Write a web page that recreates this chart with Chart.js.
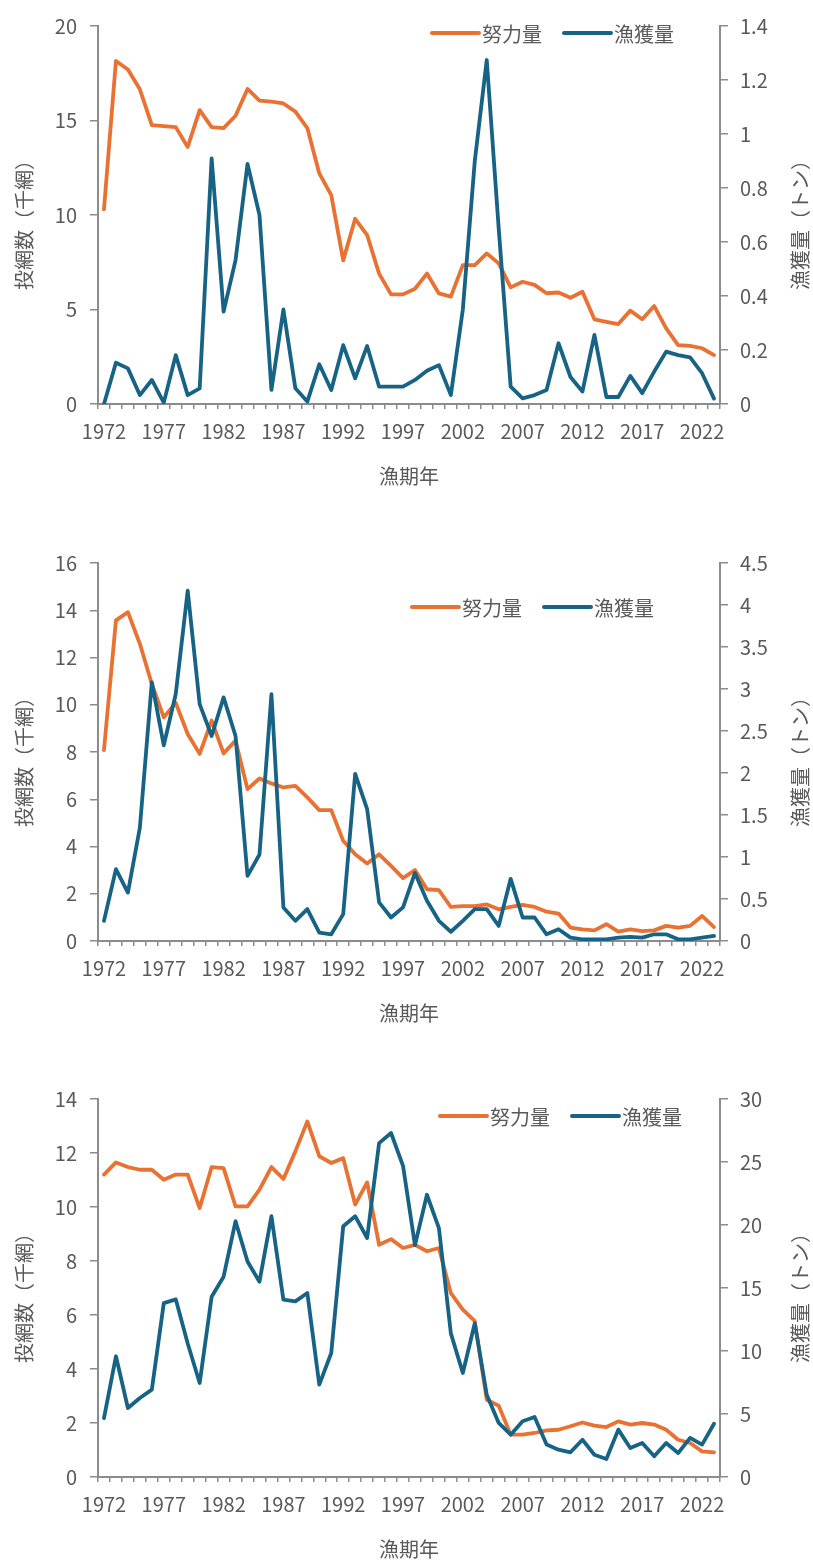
<!DOCTYPE html>
<html lang="ja">
<head>
<meta charset="utf-8">
<script src="https://cdn.jsdelivr.net/npm/chart.js@4.4.1/dist/chart.umd.min.js"></script>
<style>
  html, body { margin: 0; padding: 0; background: #fff; overflow: hidden; }
  body { width: 813px; height: 1560px; position: relative; }
  .panel { position: absolute; left: 0; width: 813px; }
</style>
</head>
<body>
<div class="panel" style="top:0;height:537px"><canvas id="c1"></canvas></div>
<div class="panel" style="top:537px;height:537px"><canvas id="c2"></canvas></div>
<div class="panel" style="top:1073px;height:487px"><canvas id="c3"></canvas></div>
<script>
// 漁期年
const years = [
  1972, 1973, 1974, 1975, 1976, 1977, 1978, 1979, 1980, 1981,
  1982, 1983, 1984, 1985, 1986, 1987, 1988, 1989, 1990, 1991,
  1992, 1993, 1994, 1995, 1996, 1997, 1998, 1999, 2000, 2001,
  2002, 2003, 2004, 2005, 2006, 2007, 2008, 2009, 2010, 2011,
  2012, 2013, 2014, 2015, 2016, 2017, 2018, 2019, 2020, 2021,
  2022, 2023
];

// 上段: 努力量（千網）と漁獲量（トン）
const effortTop = [
  10.3, 18.15, 17.7, 16.65, 14.76, 14.7, 14.65, 13.6, 15.55, 14.65,
  14.6, 15.25, 16.67, 16.05, 16.0, 15.9, 15.47, 14.6, 12.2, 11.05,
  7.6, 9.8, 8.94, 6.9, 5.8, 5.8, 6.1, 6.9, 5.85, 5.68,
  7.35, 7.35, 7.97, 7.44, 6.17, 6.47, 6.3, 5.86, 5.9, 5.62,
  5.94, 4.48, 4.35, 4.23, 4.94, 4.48, 5.18, 4.0, 3.12, 3.07,
  2.95, 2.59
];
const catchTop = [
  0.0, 0.153, 0.132, 0.033, 0.089, 0.005, 0.181, 0.033, 0.058, 0.91,
  0.342, 0.533, 0.889, 0.70, 0.052, 0.35, 0.058, 0.009, 0.147, 0.052,
  0.218, 0.095, 0.215, 0.064, 0.064, 0.064, 0.089, 0.123, 0.144, 0.033,
  0.35, 0.90, 1.274, 0.65, 0.064, 0.021, 0.033, 0.052, 0.225, 0.10,
  0.046, 0.256, 0.026, 0.026, 0.104, 0.04, 0.12, 0.194, 0.181, 0.173,
  0.114, 0.02
];

// 中段
const effortMid = [
  8.08, 13.57, 13.92, 12.58, 10.88, 9.47, 10.08, 8.76, 7.92, 9.33,
  7.94, 8.48, 6.43, 6.88, 6.67, 6.50, 6.57, 6.08, 5.54, 5.54,
  4.24, 3.67, 3.28, 3.67, 3.18, 2.66, 3.0, 2.19, 2.15, 1.44,
  1.48, 1.48, 1.55, 1.34, 1.44, 1.53, 1.44, 1.24, 1.16, 0.57,
  0.49, 0.45, 0.71, 0.40, 0.49, 0.42, 0.45, 0.64, 0.57, 0.64,
  1.06, 0.59
];
const catchMid = [
  0.24, 0.855, 0.576, 1.35, 3.08, 2.33, 2.94, 4.17, 2.82, 2.44,
  2.90, 2.44, 0.775, 1.03, 2.94, 0.40, 0.24, 0.38, 0.10, 0.08,
  0.32, 1.99, 1.57, 0.46, 0.28, 0.40, 0.81, 0.48, 0.24, 0.11,
  0.24, 0.38, 0.38, 0.18, 0.74, 0.28, 0.28, 0.08, 0.14, 0.04,
  0.02, 0.02, 0.02, 0.04, 0.05, 0.04, 0.08, 0.08, 0.02, 0.02,
  0.04, 0.06
];

// 下段
const effortLow = [
  11.2, 11.65, 11.48, 11.38, 11.38, 11.01, 11.2, 11.2, 9.96, 11.48,
  11.44, 10.02, 10.02, 10.64, 11.48, 11.04, 12.06, 13.17, 11.88, 11.63,
  11.81, 10.09, 10.91, 8.6, 8.81, 8.48, 8.6, 8.36, 8.48, 6.81,
  6.2, 5.77, 2.86, 2.64, 1.57, 1.57, 1.63, 1.73, 1.75, 1.88,
  2.02, 1.9, 1.85, 2.06, 1.94, 2.0, 1.94, 1.75, 1.38, 1.26,
  0.95, 0.91
];
const catchLow = [
  4.68, 9.58, 5.48, 6.27, 6.93, 13.8, 14.1, 10.6, 7.46, 14.3,
  15.9, 20.3, 17.1, 15.5, 20.7, 14.07, 13.94, 14.6, 7.33, 9.84,
  19.9, 20.7, 18.97, 26.5, 27.3, 24.7, 18.4, 22.4, 19.76, 11.4,
  8.25, 12.2, 6.53, 4.29, 3.36, 4.42, 4.76, 2.57, 2.17, 1.96,
  2.96, 1.77, 1.43, 3.76, 2.3, 2.7, 1.64, 2.7, 1.9, 3.1,
  2.57, 4.23
];

// 軸の範囲と目盛
const leftAxisTop = { max: 20, step: 5 };
const rightAxisTop = { max: 1.4, step: 0.2 };
const leftAxisMid = { max: 16, step: 2 };
const rightAxisMid = { max: 4.5, step: 0.5 };
const leftAxisLow = { max: 14, step: 2 };
const rightAxisLow = { max: 30, step: 5 };

const effortLabel = '努力量';
const catchLabel = '漁獲量';
const leftTitle = '投網数（千網）';
const rightTitle = '漁獲量（トン）';
const xTitle = '漁期年';
const yearLabelEvery = 5;

// スタイル
const ORANGE = '#E97132';
const BLUE = '#176385';
const TEXT = '#595959';
const AXIS = '#8c8c8c';
const FAMILY = "'Noto Sans CJK JP', 'Noto Sans', sans-serif";
const FONT_SIZE = 20;

const PLOT_LEFT = 98;
const PLOT_RIGHT = 720;
const PLOT_TOP = 26;
const PLOT_BOTTOM = 404;
const CANVAS_W = 813;

// 目盛ラベル: 末尾の 0 を付けない（1.0 → 1）
function plainNumber(value) {
  return String(Number(Number(value).toFixed(3)));
}

// 軸タイトルと凡例を描くプラグイン
const panelDecor = {
  id: 'panelDecor',
  afterDraw(chart, args, o) {
    const ctx = chart.ctx;
    ctx.save();
    ctx.fillStyle = TEXT;
    ctx.font = `${FONT_SIZE}px ${FAMILY}`;
    ctx.textAlign = 'center';
    ctx.textBaseline = 'middle';

    const midY = o.titleY;
    ctx.save();
    ctx.translate(o.leftTitleX, midY);
    ctx.rotate(-Math.PI / 2);
    ctx.fillText(leftTitle, 0, 0);
    ctx.restore();

    ctx.save();
    ctx.translate(o.rightTitleX, midY);
    ctx.rotate(-Math.PI / 2);
    ctx.fillText(rightTitle, 0, 0);
    ctx.restore();

    const ca = chart.chartArea;
    ctx.fillText(xTitle, (ca.left + ca.right) / 2, o.xTitleY);

    // 凡例
    const items = [
      { label: chart.data.datasets[0].label, color: chart.data.datasets[0].borderColor },
      { label: chart.data.datasets[1].label, color: chart.data.datasets[1].borderColor }
    ];
    let x = o.legendX;
    const y = o.legendY;
    ctx.textAlign = 'left';
    items.forEach(it => {
      ctx.strokeStyle = it.color;
      ctx.lineWidth = 4;
      ctx.lineCap = 'round';
      ctx.beginPath();
      ctx.moveTo(x, y);
      ctx.lineTo(x + 47, y);
      ctx.stroke();
      x += 50;
      ctx.fillStyle = TEXT;
      ctx.fillText(it.label, x, y + 1);
      x += ctx.measureText(it.label).width + 22;
    });
    ctx.restore();
  }
};

function buildChart(canvasId, panelHeight, effort, catchData, leftAxis, rightAxis, legendX, legendY) {
  const tickFont = { family: FAMILY, size: FONT_SIZE };
  const axisGrid = {
    display: true,
    drawOnChartArea: false,
    drawTicks: true,
    tickLength: 8,
    color: AXIS,
    lineWidth: 1.5
  };
  const axisBorder = { display: true, color: AXIS, width: 2 };

  return new Chart(document.getElementById(canvasId), {
    type: 'line',
    data: {
      labels: years,
      datasets: [
        {
          label: effortLabel,
          data: effort,
          yAxisID: 'y',
          borderColor: ORANGE,
          backgroundColor: ORANGE,
          borderWidth: 3.8,
          pointRadius: 0,
          tension: 0,
          borderJoinStyle: 'round',
          borderCapStyle: 'round',
          order: 2
        },
        {
          label: catchLabel,
          data: catchData,
          yAxisID: 'y1',
          borderColor: BLUE,
          backgroundColor: BLUE,
          borderWidth: 3.8,
          pointRadius: 0,
          tension: 0,
          borderJoinStyle: 'round',
          borderCapStyle: 'round',
          order: 1
        }
      ]
    },
    options: {
      responsive: true,
      maintainAspectRatio: false,
      animation: false,
      events: [],
      layout: { padding: { top: PLOT_TOP, left: 0, right: 0, bottom: 0 } },
      plugins: {
        legend: { display: false },
        tooltip: { enabled: false },
        panelDecor: {
          leftTitleX: 24,
          rightTitleX: 800,
          titleY: 220,
          xTitleY: 476,
          legendX: legendX,
          legendY: legendY
        }
      },
      scales: {
        x: {
          type: 'category',
          offset: true,
          grid: Object.assign({}, axisGrid, { tickLength: 5, offset: true }),
          border: axisBorder,
          ticks: {
            autoSkip: false,
            maxRotation: 0,
            minRotation: 0,
            padding: 10,
            color: TEXT,
            font: tickFont,
            callback(value, index) {
              return index % yearLabelEvery === 0 ? String(this.getLabelForValue(value)) : '';
            }
          },
          afterFit(scale) { scale.height = panelHeight - PLOT_BOTTOM; }
        },
        y: {
          position: 'left',
          min: 0,
          max: leftAxis.max,
          grid: axisGrid,
          border: axisBorder,
          ticks: { stepSize: leftAxis.step, padding: 13, color: TEXT, font: tickFont, callback: plainNumber },
          afterFit(scale) { scale.width = PLOT_LEFT; }
        },
        y1: {
          position: 'right',
          min: 0,
          max: rightAxis.max,
          grid: axisGrid,
          border: axisBorder,
          ticks: { stepSize: rightAxis.step, padding: 12, color: TEXT, font: tickFont, callback: plainNumber },
          afterFit(scale) { scale.width = CANVAS_W - PLOT_RIGHT; }
        }
      }
    },
    plugins: [panelDecor]
  });
}

buildChart('c1', 537, effortTop, catchTop, leftAxisTop, rightAxisTop, 432, 33);
buildChart('c2', 537, effortMid, catchMid, leftAxisMid, rightAxisMid, 412, 70);
buildChart('c3', 487, effortLow, catchLow, leftAxisLow, rightAxisLow, 440, 43);
</script>
</body>
</html>
